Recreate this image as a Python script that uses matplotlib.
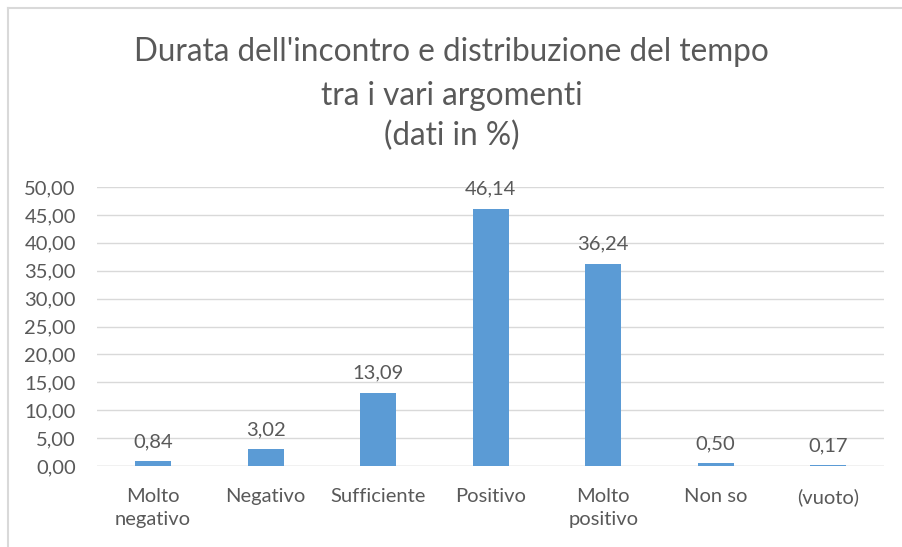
import matplotlib.pyplot as plt
import numpy as np

categorie = ['Molto\nnegativo', 'Negativo', 'Sufficiente', 'Positivo', 'Molto\npositivo', 'Non so', '(vuoto)']
valori = [0.84, 3.02, 13.09, 46.14, 36.24, 0.50, 0.17]
yticks = [0, 5, 10, 15, 20, 25, 30, 35, 40, 45, 50]

plt.rcParams['font.family'] = ['Lato', 'DejaVu Sans']
grigio = '#595959'

fig = plt.figure(figsize=(9.03, 5.47), dpi=100)
ax = fig.add_axes([96.7 / 903, 1 - 466 / 547, (884.5 - 96.7) / 903, (466 - 187) / 547])

x = np.arange(len(categorie))
ax.bar(x, valori, width=0.32, color='#5B9BD5', zorder=3)
for xi, v in zip(x, valori):
    ax.annotate(f'{v:.2f}'.replace('.', ','), (xi, v), xytext=(0, 8), textcoords='offset points',
                ha='center', va='bottom', fontsize=14.5, color=grigio)

ax.set_xlim(-0.5, len(categorie) - 0.5)
ax.set_ylim(0, 50)
ax.set_yticks(yticks)
ax.set_yticklabels([f'{t:.2f}'.replace('.', ',') for t in yticks], fontsize=14.5, color=grigio)
ax.set_xticks(x)
ax.set_xticklabels(categorie, fontsize=14.5, color=grigio, linespacing=1.4, va='top')
ax.tick_params(axis='y', length=0, pad=15)
ax.tick_params(axis='x', length=0, pad=16)
ax.grid(axis='y', color='#D9D9D9', linewidth=1, zorder=0)
for s in ax.spines.values():
    s.set_visible(False)
ax.axhline(0, color='#D9D9D9', linewidth=1, zorder=2)

fig.text(0.5, 1 - 52 / 547, "Durata dell'incontro e distribuzione del tempo", ha='center', va='center',
         fontsize=22.7, color=grigio)
fig.text(0.5, 1 - 96 / 547, 'tra i vari argomenti', ha='center', va='center', fontsize=22.7, color=grigio)
fig.text(0.5, 1 - 136 / 547, '(dati in %)', ha='center', va='center', fontsize=22.7, color=grigio)

# bordo del grafico
fig.add_artist(plt.Line2D([8 / 903, 8 / 903], [0, 1 - 8 / 547], color='#D9D9D9', linewidth=1.5))
fig.add_artist(plt.Line2D([8 / 903, 1], [1 - 8 / 547, 1 - 8 / 547], color='#D9D9D9', linewidth=1.5))

fig.savefig('out.png', dpi=100)
